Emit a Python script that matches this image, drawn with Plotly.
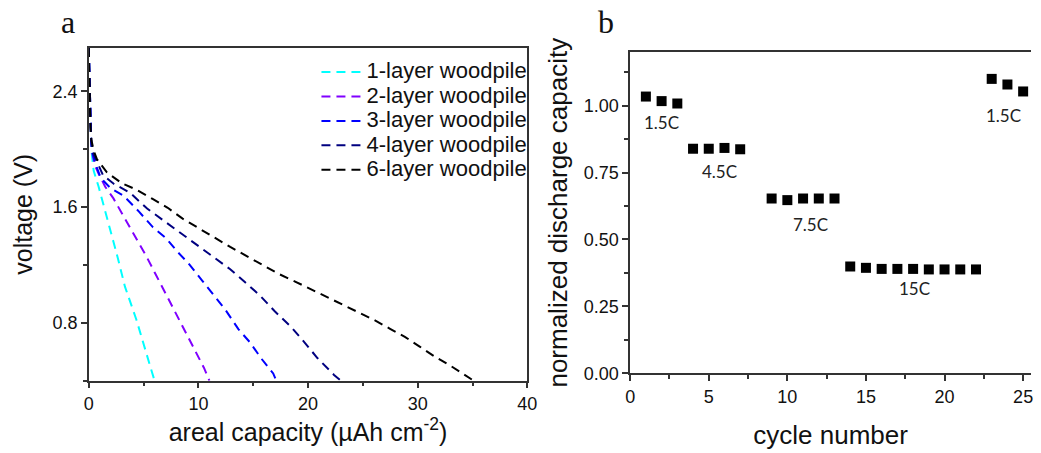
import plotly.graph_objects as go

# ---------------- Panel a : discharge curves ----------------
series_names = ["1-layer woodpile", "2-layer woodpile", "3-layer woodpile",
                "4-layer woodpile", "6-layer woodpile"]
series_colors = ["#00FFFF", "#8000FF", "#0000FF", "#000080", "#000000"]

cap_1 = [0, 0.05, 0.1, 0.15, 0.22, 0.3, 0.45, 0.9, 1.35, 1.8, 2.25, 2.64, 3.3, 4.35, 5.1, 5.6, 6.0]
volt_1 = [2.7, 2.5, 2.3, 2.15, 2.04, 1.95, 1.85, 1.74, 1.61, 1.47, 1.36, 1.25, 1.05, 0.82, 0.62, 0.5, 0.4]

cap_2 = [0, 0.05, 0.1, 0.15, 0.22, 0.35, 0.55, 0.9, 1.5, 2.25, 3.0, 3.75, 4.5, 5.25, 6.0, 6.75,
         7.5, 8.25, 9.0, 9.75, 10.5, 11.0]
volt_2 = [2.7, 2.5, 2.3, 2.15, 2.05, 1.96, 1.89, 1.83, 1.74, 1.66, 1.56, 1.47, 1.37, 1.26, 1.15, 1.04,
          0.93, 0.82, 0.71, 0.6, 0.49, 0.4]

cap_3 = [0, 0.05, 0.1, 0.15, 0.22, 0.35, 0.6, 1.1, 2.0, 3.15, 4.5, 5.86, 7.05, 8.1, 9.1, 10.36,
         11.41, 12.46, 13.66, 14.7, 15.77, 16.82, 17.1]
volt_3 = [2.7, 2.5, 2.3, 2.15, 2.05, 1.97, 1.9, 1.8, 1.73, 1.68, 1.575, 1.46, 1.385, 1.29, 1.21, 1.09,
          0.99, 0.89, 0.755, 0.665, 0.55, 0.45, 0.4]

cap_4 = [0, 0.05, 0.1, 0.15, 0.22, 0.35, 0.7, 1.3, 2.3, 3.75, 5.32, 7.2, 8.56, 9.9, 11.45, 12.9,
         14.26, 15.6, 16.96, 18.47, 19.67, 20.87, 22.37, 23.0]
volt_4 = [2.7, 2.5, 2.3, 2.15, 2.05, 1.98, 1.92, 1.82, 1.76, 1.70, 1.59, 1.485, 1.41, 1.335, 1.25, 1.17,
          1.08, 0.99, 0.88, 0.77, 0.665, 0.555, 0.44, 0.4]

cap_6 = [0, 0.05, 0.1, 0.15, 0.25, 0.45, 0.75, 1.65, 3.0, 4.35, 5.86, 7.2, 8.56, 10.06, 11.56, 12.9,
         14.4, 15.77, 17.27, 18.77, 20.27, 21.6, 22.97, 24.48, 25.97, 27.48, 28.83, 30.18, 31.53,
         33.04, 34.5, 35.0]
volt_6 = [2.7, 2.5, 2.3, 2.15, 2.06, 1.99, 1.93, 1.84, 1.765, 1.72, 1.655, 1.595, 1.52, 1.45, 1.385, 1.325,
          1.26, 1.205, 1.14, 1.087, 1.031, 0.986, 0.934, 0.878, 0.822, 0.759, 0.703, 0.636, 0.568,
          0.501, 0.434, 0.405]

caps = [cap_1, cap_2, cap_3, cap_4, cap_6]
volts = [volt_1, volt_2, volt_3, volt_4, volt_6]

# ---------------- Panel b : rate capability ----------------
cycles = [1, 2, 3, 4, 5, 6, 7, 9, 10, 11, 12, 13, 14, 15, 16, 17, 18, 19, 20, 21, 22, 23, 24, 25]
norm_capacity = [1.034, 1.017, 1.008, 0.839, 0.839, 0.842, 0.837,
                 0.653, 0.647, 0.653, 0.653, 0.653,
                 0.399, 0.394, 0.390, 0.390, 0.390, 0.388, 0.388, 0.388, 0.388,
                 1.100, 1.079, 1.053]
rate_labels = ["1.5C", "4.5C", "7.5C", "15C", "1.5C"]
rate_label_x = [2.02, 5.70, 11.47, 18.06, 23.73]
rate_label_y = [0.936, 0.753, 0.555, 0.315, 0.963]

W, H = 1041, 453
SANS = "Liberation Sans, Arial, sans-serif"

fig = go.Figure()
for name, xs, vs, col in zip(series_names, caps, volts, series_colors):
    fig.add_trace(go.Scatter(x=xs, y=vs, mode="lines",
                             name="<span style='font-size:22px'>" + name + "</span>",
                             line=dict(color=col, width=2, dash="9px,6px"),
                             xaxis="x", yaxis="y"))

fig.add_trace(go.Scatter(x=cycles, y=norm_capacity, mode="markers", showlegend=False,
                         marker=dict(symbol="square", size=10, color="black"),
                         xaxis="x2", yaxis="y2", cliponaxis=False))

axis_common = dict(showgrid=False, zeroline=False, showline=True, linecolor="#333",
                   linewidth=1.5, ticks="outside", ticklen=6, tickwidth=1.5,
                   tickcolor="#333", tickfont=dict(family=SANS, size=18, color="#111"))

fig.update_layout(
    width=W, height=H,
    margin=dict(l=0, r=0, t=0, b=0),
    paper_bgcolor="white", plot_bgcolor="white",
    showlegend=True,
    legend=dict(x=316 / W, y=1 - 56 / H, xanchor="left", yanchor="top",
                itemwidth=40,
                bgcolor="rgba(0,0,0,0)", borderwidth=0,
                font=dict(family=SANS, size=16.5, color="#111")),
    xaxis=dict(domain=[85 / W, 530 / W], range=[0, 40], tick0=0, dtick=10, mirror=True,
               anchor="y",
               minor=dict(dtick=5, ticks="outside", ticklen=4, tickwidth=1.5, tickcolor="#333"),
               title=dict(text="areal capacity (µAh cm<sup>-2</sup>)", standoff=10,
                          font=dict(family=SANS, size=25, color="#111")),
               **axis_common),
    yaxis=dict(domain=[1 - 389.3 / H, 1 - 49 / H], range=[0.4, 2.7], tick0=0, dtick=0.8,
               tickformat=".1f", mirror=True, anchor="x",
               minor=dict(dtick=0.4, tick0=0, ticks="outside", ticklen=4, tickwidth=1.5, tickcolor="#333"),
               title=dict(text="voltage (V)", standoff=13,
                          font=dict(family=SANS, size=25, color="#111")),
               **axis_common),
    xaxis2=dict(domain=[634.3 / W, 1.0], range=[0, 25.5], tick0=0, dtick=5, mirror=True,
                anchor="y2",
                minor=dict(dtick=2.5, ticks="outside", ticklen=4, tickwidth=1.5, tickcolor="#333"),
                title=dict(text="cycle number", standoff=20,
                           font=dict(family=SANS, size=26, color="#111")),
                **axis_common),
    yaxis2=dict(domain=[1 - 381.7 / H, 1 - 53.3 / H], range=[0, 1.2], tick0=0, dtick=0.25,
                tickformat=".2f", mirror=False, anchor="x2",
                minor=dict(dtick=0.125, tick0=0, ticks="outside", ticklen=4, tickwidth=1.5, tickcolor="#333"),
                title=dict(text="normalized discharge capacity", standoff=9,
                           font=dict(family=SANS, size=26, color="#111")),
                **axis_common),
)

annotations = []
for txt, lx, ly in zip(rate_labels, rate_label_x, rate_label_y):
    annotations.append(dict(text=txt, x=lx, y=ly, xref="x2", yref="y2", showarrow=False,
                            xanchor="center", yanchor="middle",
                            font=dict(family="Lato, sans-serif", size=17, color="#222")))
annotations.append(dict(text="a", x=64 / W, y=1 - 22 / H, xref="paper", yref="paper",
                        showarrow=False, xanchor="center", yanchor="middle",
                        font=dict(family="Liberation Serif, Times New Roman, serif", size=32, color="#111")))
annotations.append(dict(text="b", x=610 / W, y=1 - 22 / H, xref="paper", yref="paper",
                        showarrow=False, xanchor="center", yanchor="middle",
                        font=dict(family="Liberation Serif, Times New Roman, serif", size=32, color="#111")))
fig.update_layout(annotations=annotations)

fig.write_html("out.html")
